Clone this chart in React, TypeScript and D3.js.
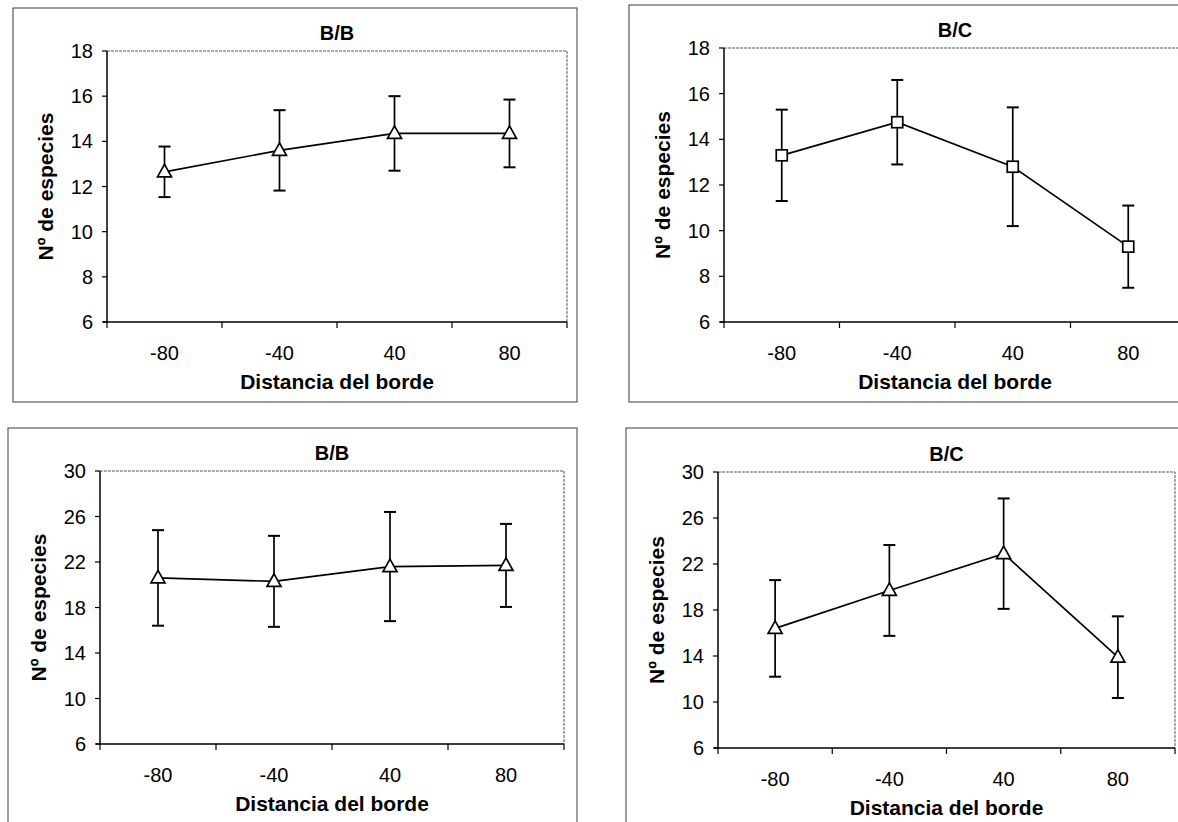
import * as d3 from 'd3';

const categories = ['-80', '-40', '40', '80'];

const topTicks = [6, 8, 10, 12, 14, 16, 18];
const bottomTicks = [6, 10, 14, 18, 22, 26, 30];

// top row
const bbTopMean = [12.65, 13.6, 14.35, 14.35];
const bbTopErr = [1.12, 1.78, 1.65, 1.5];
const bcTopMean = [13.3, 14.75, 12.8, 9.3];
const bcTopErr = [2.0, 1.85, 2.6, 1.8];

// bottom row
const bbBottomMean = [20.6, 20.3, 21.6, 21.7];
const bbBottomErr = [4.2, 4.0, 4.8, 3.65];
const bcBottomMean = [16.4, 19.7, 22.9, 13.9];
const bcBottomErr = [4.2, 3.95, 4.8, 3.55];

const FONT = "'Liberation Sans', Arial, sans-serif";

interface PanelProps {
  title: string;
  frame: [number, number, number, number];
  plot: { x0: number; x1: number; y0: number; y1: number };
  ticks: number[];
  means: number[];
  errs: number[];
  marker: 'triangle' | 'square';
}

function Marker({ x, y, kind }: { x: number; y: number; kind: string }) {
  if (kind === 'square') {
    return (
      <rect x={x - 5.5} y={y - 5.5} width={11} height={11} fill="#fff" stroke="#000" strokeWidth={1.7} />
    );
  }
  const path = `M${x},${y - 7.5} L${x + 7},${y + 5} L${x - 7},${y + 5} Z`;
  return <path d={path} fill="#fff" stroke="#000" strokeWidth={1.7} strokeLinejoin="miter" />;
}

function Panel({ title, frame, plot, ticks, means, errs, marker }: PanelProps) {
  const x = d3.scaleBand<string>().domain(categories).range([plot.x0, plot.x1]);
  const y = d3
    .scaleLinear()
    .domain([ticks[0], ticks[ticks.length - 1]])
    .range([plot.y1, plot.y0]);
  const cx = (c: string) => (x(c) ?? 0) + x.bandwidth() / 2;

  const line = d3
    .line<number>()
    .x((_, i) => cx(categories[i]))
    .y((d) => y(d));

  const boundaries = [...categories.map((c) => x(c) ?? 0), plot.x1];
  const midX = (plot.x0 + plot.x1) / 2;
  const midY = (plot.y0 + plot.y1) / 2;

  return (
    <g fontFamily={FONT}>
      <rect
        x={frame[0]}
        y={frame[1]}
        width={frame[2]}
        height={frame[3]}
        fill="none"
        stroke="#3a3a3a"
        strokeWidth={1}
      />
      {/* plot area: faint top/right edges */}
      <path
        d={`M${plot.x0},${plot.y0} H${plot.x1} V${plot.y1}`}
        fill="none"
        stroke="#555"
        strokeWidth={1}
        strokeDasharray="3 1"
      />
      {/* y axis */}
      <line x1={plot.x0} x2={plot.x0} y1={plot.y0} y2={plot.y1} stroke="#000" strokeWidth={1.5} />
      {ticks.map((t) => (
        <g key={t}>
          <line x1={plot.x0 - 5} x2={plot.x0} y1={y(t)} y2={y(t)} stroke="#000" strokeWidth={1.2} />
          <text x={plot.x0 - 14} y={y(t) + 7} textAnchor="end" fontSize={20} fill="#000">
            {t}
          </text>
        </g>
      ))}
      {/* x axis */}
      <line x1={plot.x0 - 4} x2={plot.x1} y1={plot.y1} y2={plot.y1} stroke="#000" strokeWidth={1.5} />
      {boundaries.map((b, i) => (
        <line key={i} x1={b} x2={b} y1={plot.y1} y2={plot.y1 + 6} stroke="#000" strokeWidth={1.2} />
      ))}
      {categories.map((c) => (
        <text key={c} x={cx(c)} y={plot.y1 + 38} textAnchor="middle" fontSize={20} fill="#000">
          {c}
        </text>
      ))}
      {/* error bars */}
      {means.map((m, i) => {
        const px = cx(categories[i]);
        const top = y(m + errs[i]);
        const bot = y(m - errs[i]);
        return (
          <g key={i} stroke="#000" strokeWidth={1.7}>
            <line x1={px} x2={px} y1={top} y2={bot} />
            <line x1={px - 6} x2={px + 6} y1={top} y2={top} strokeWidth={2} />
            <line x1={px - 6} x2={px + 6} y1={bot} y2={bot} strokeWidth={2} />
          </g>
        );
      })}
      <path d={line(means) ?? ''} fill="none" stroke="#000" strokeWidth={1.7} />
      {means.map((m, i) => (
        <Marker key={i} x={cx(categories[i])} y={y(m)} kind={marker} />
      ))}
      <text x={midX} y={plot.y0 - 11} textAnchor="middle" fontSize={20} fontWeight="bold" fill="#000">
        {title}
      </text>
      <text x={midX} y={plot.y1 + 67} textAnchor="middle" fontSize={21} fontWeight="bold" fill="#000">
        Distancia del borde
      </text>
      <text
        transform={`translate(${plot.x0 - 54},${midY}) rotate(-90)`}
        textAnchor="middle"
        fontSize={21}
        fontWeight="bold"
        fill="#000"
      >
        Nº de especies
      </text>
    </g>
  );
}

export default function App() {
  return (
    <svg
      width={1178}
      height={822}
      viewBox="0 0 1178 822"
      style={{ position: 'absolute', left: 0, top: 0, background: '#fff' }}
    >
      <rect width={1178} height={822} fill="#fff" />
      <Panel
        title="B/B"
        frame={[13, 8, 564, 394]}
        plot={{ x0: 107, x1: 567, y0: 51, y1: 322 }}
        ticks={topTicks}
        means={bbTopMean}
        errs={bbTopErr}
        marker="triangle"
      />
      <Panel
        title="B/C"
        frame={[629, 5, 600, 397]}
        plot={{ x0: 724, x1: 1186, y0: 48, y1: 322 }}
        ticks={topTicks}
        means={bcTopMean}
        errs={bcTopErr}
        marker="square"
      />
      <Panel
        title="B/B"
        frame={[8, 428, 569, 420]}
        plot={{ x0: 100, x1: 564, y0: 471, y1: 744 }}
        ticks={bottomTicks}
        means={bbBottomMean}
        errs={bbBottomErr}
        marker="triangle"
      />
      <Panel
        title="B/C"
        frame={[626, 428, 600, 420]}
        plot={{ x0: 718, x1: 1175, y0: 472, y1: 748 }}
        ticks={bottomTicks}
        means={bcBottomMean}
        errs={bcBottomErr}
        marker="triangle"
      />
    </svg>
  );
}
